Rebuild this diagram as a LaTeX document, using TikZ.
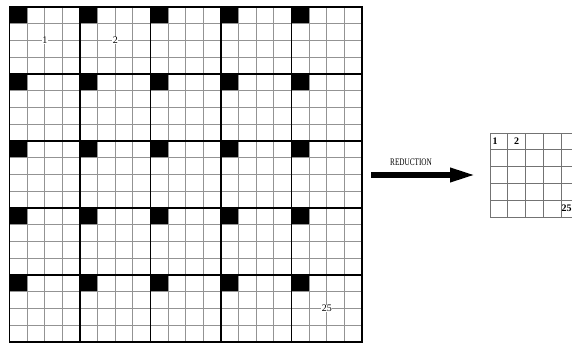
\documentclass[tikz,border=0pt]{standalone}
\usepackage{fontspec}
\setmainfont{Liberation Serif}
\usetikzlibrary{arrows.meta}
\tikzset{
  thin line/.style={gray!85, line width=0.8pt},
  block line/.style={black, line width=1.7pt},
  cell label/.style={fill=white, inner sep=0.6pt, font=\normalsize},
  small label/.style={inner sep=0.6pt, font=\normalsize\bfseries},
}

\begin{document}
\begin{tikzpicture}[x=1pt, y=1pt]

    \clip (0,0) rectangle (572,343);
    \fill[white] (0,0) rectangle (572,343);

    %%%%%%%%%%%%%%%%%%
    %%%%% Big grid %%%%
    %%%%%%%%%%%%%%%%%%

    \begin{scope}[shift={(9.5,1)}]
    % Black corner cell of each block
    \foreach \i in {0,...,4}
      \foreach \j in {0,...,4}
        \fill (70.5*\i,335-67*\j) rectangle ++(17.625,-16.75);

    % Cells and blocks
    \draw[thin line, xstep=17.625, ystep=16.75] (0,0) grid (352.5,335);
    \draw[block line, xstep=70.5, ystep=67] (0,0) grid (352.5,335);
    \draw[block line] (0,0) rectangle (352.5,335);

    % Block numbers
    \node[cell label] (b1) at (35.25,301.5) {1};
    \node[cell label] (b2) at (105.75,301.5) {2};
    \node[cell label] (b25) at (317.25,33.5) {25};
    \end{scope}

    %%%%%%%%%%%%%%%%%%
    %%%%% Arrow %%%%%%%
    %%%%%%%%%%%%%%%%%%

    \coordinate (from) at (371,168);
    \coordinate (to) at (476,168);
    \draw[line width=6pt, -{Triangle[length=26pt, width=13pt]}] (from) -- (to);
    \node (red) at (411,181) {\scalebox{0.72}[1]{\fontsize{10}{10}\selectfont REDUCTION}};

    %%%%%%%%%%%%%%%%%%
    %%%%% Small grid %%
    %%%%%%%%%%%%%%%%%%

    \begin{scope}[shift={(490,126)}]
    \draw[gray!90!black, line width=0.8pt, xstep=17.8, ystep=16.8] (0,0) grid (89,84);
    \draw[gray!90!black, line width=0.8pt] (0,0) rectangle (89,84);
    \node[small label] (s1) at (5,75.6) {1};
    \node[small label] (s2) at (26.7,75.6) {2};
    \node[small label] (s25) at (76.5,8.4) {25};
    \end{scope}

\end{tikzpicture}
\end{document}
